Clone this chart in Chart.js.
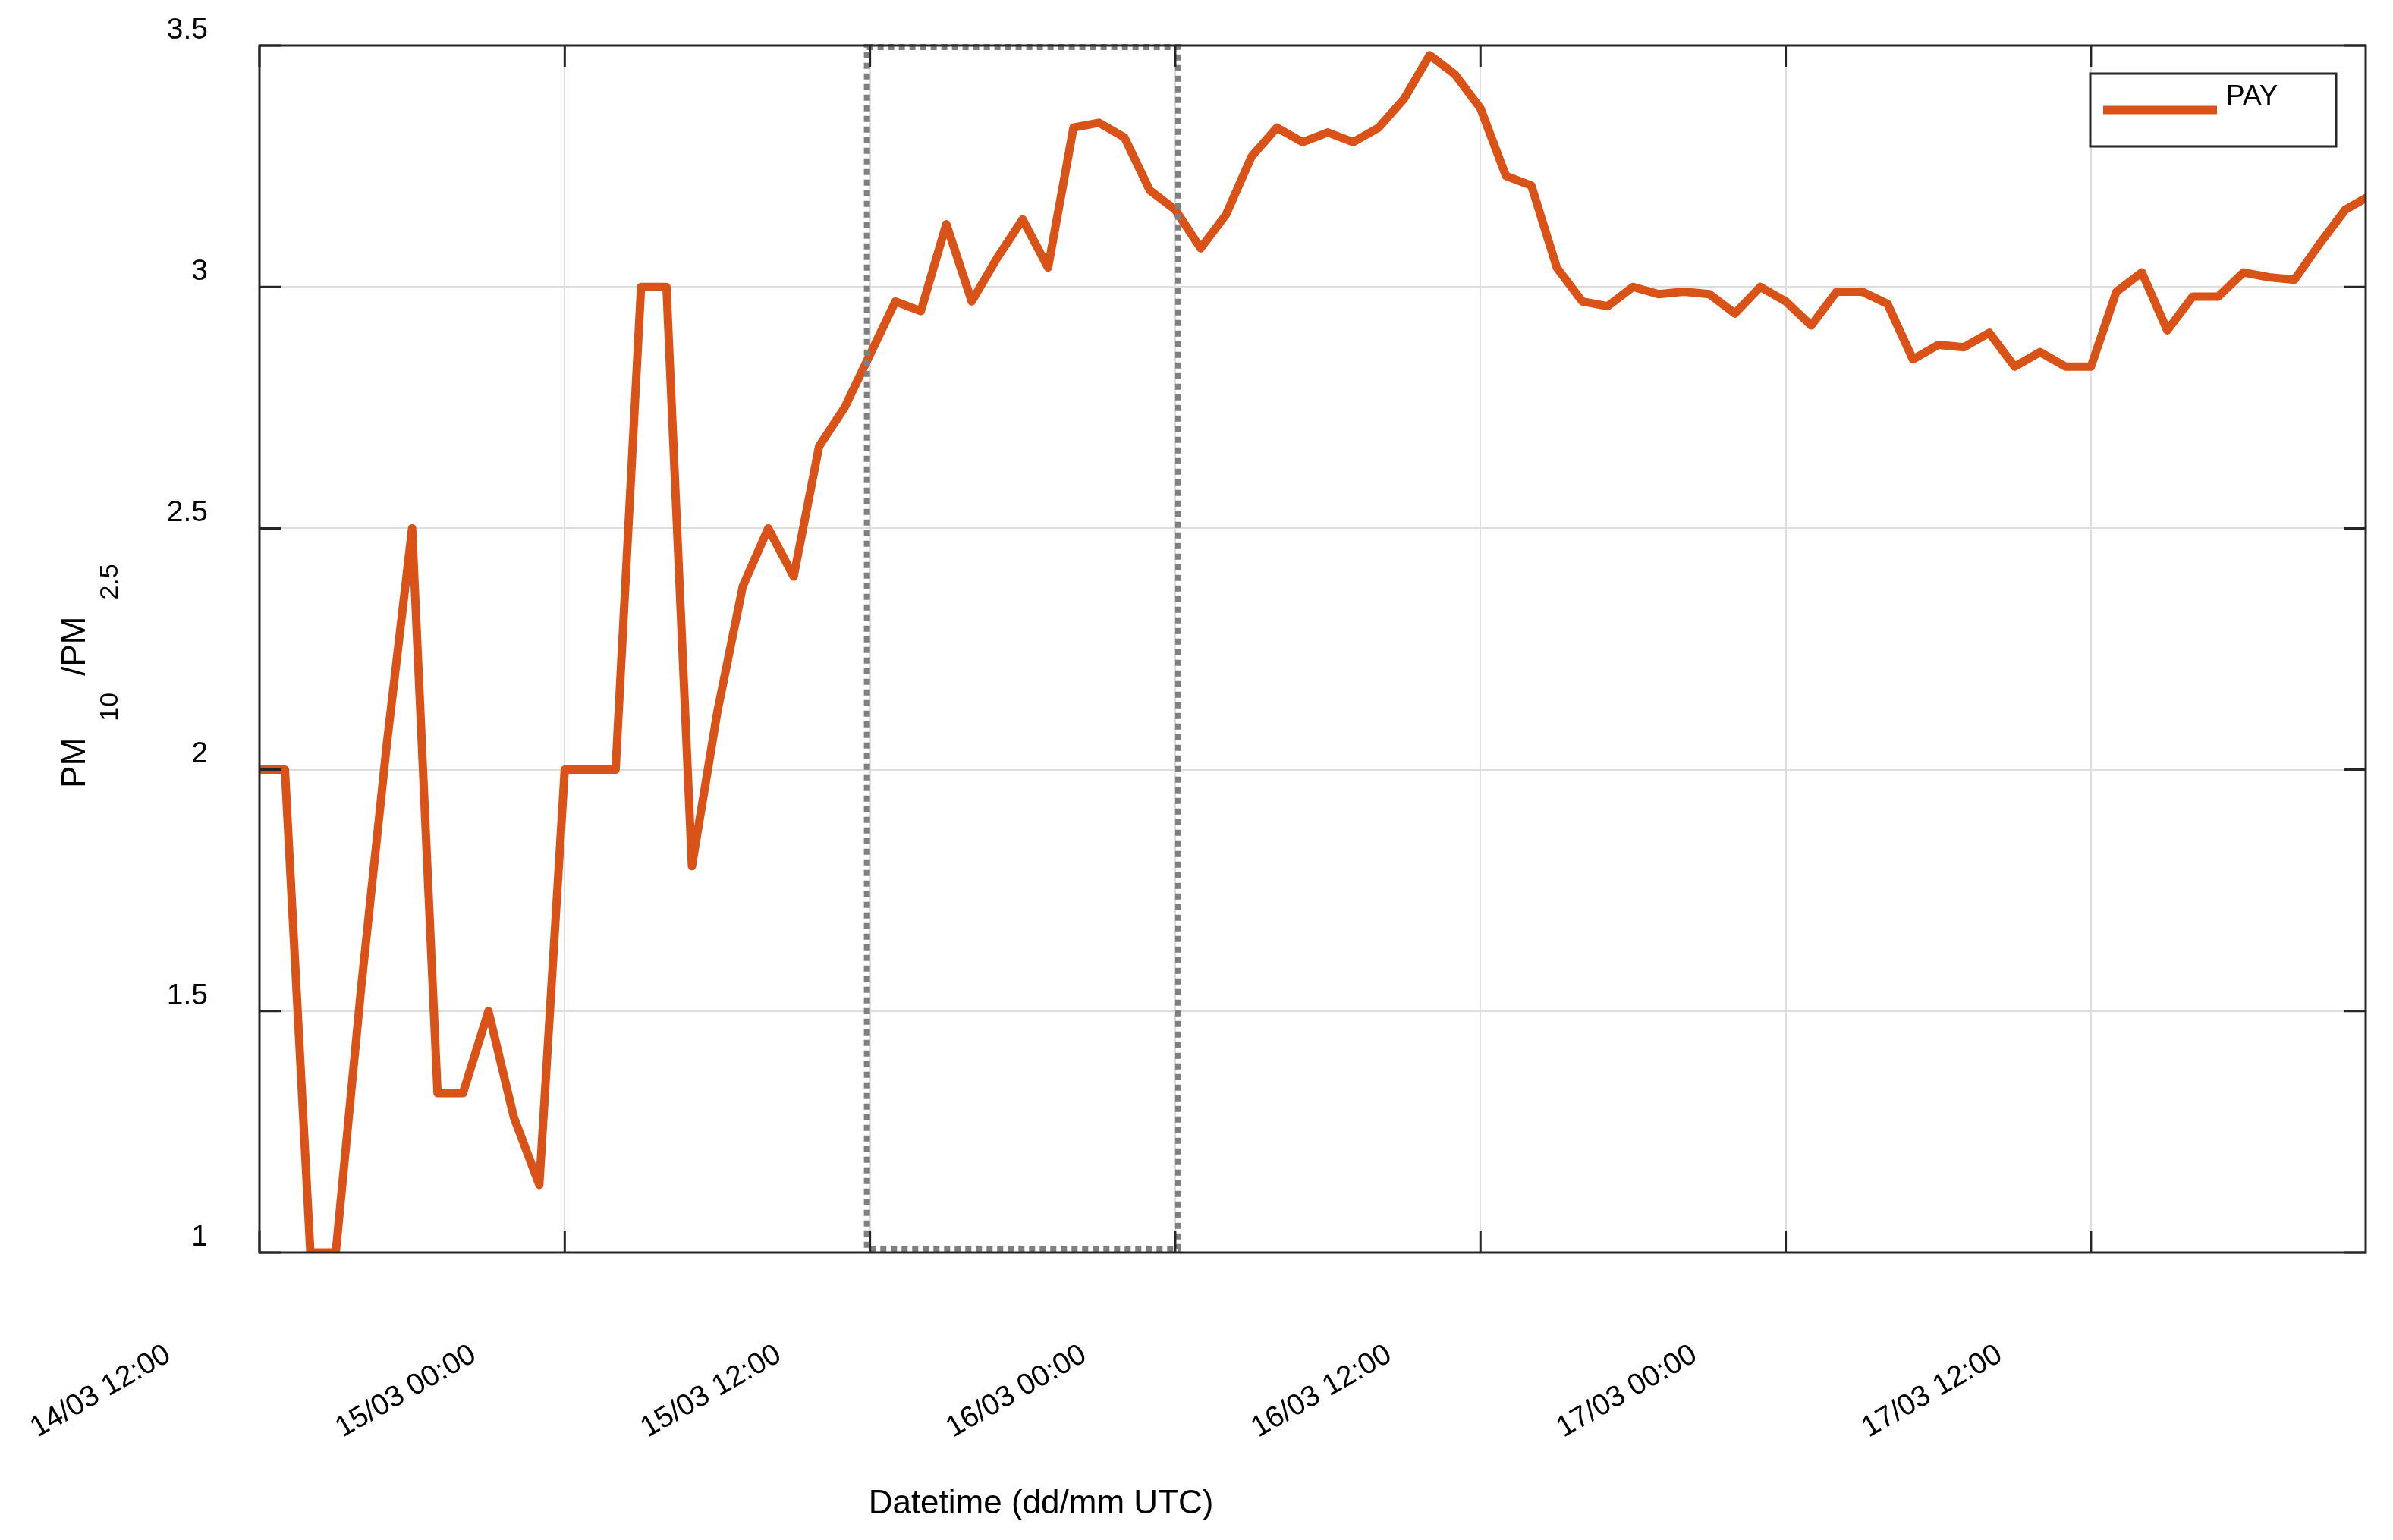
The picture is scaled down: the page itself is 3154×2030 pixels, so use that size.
<!DOCTYPE html>
<html><head><meta charset="utf-8">
<script src="https://cdn.jsdelivr.net/npm/chart.js@4"></script>
<style>html,body{margin:0;padding:0;background:#fff}#c{display:block}</style>
</head><body>
<canvas id="c" width="3154" height="2030"></canvas>
<script>
// Hours since 14/03 12:00 UTC
const hours = [];
for (let i = 0; i <= 83; i++) hours.push(i);
const payValues = [2.0,2.0,1.0,1.0,1.55,2.05,2.5,1.33,1.33,1.5,1.28,1.14,2.0,2.0,2.0,3.0,3.0,1.8,2.12,2.38,
2.5,2.4,2.67,2.75,2.86,2.97,2.95,3.13,2.97,3.06,3.14,3.04,3.33,3.34,3.31,3.2,3.16,3.08,3.15,3.27,
3.33,3.30,3.32,3.30,3.33,3.39,3.48,3.44,3.37,3.23,3.21,3.04,2.97,2.96,3.0,2.985,2.99,2.985,2.945,3.0,
2.97,2.92,2.99,2.99,2.965,2.85,2.88,2.875,2.905,2.835,2.865,2.835,2.835,2.99,3.03,2.91,2.98,2.98,3.03,3.02,
3.015,3.09,3.16,3.19];
const xTickValues = [0,12,24,36,48,60,72];
const xTickLabels = ['14/03 12:00','15/03 00:00','15/03 12:00','16/03 00:00','16/03 12:00','17/03 00:00','17/03 12:00'];
const yTickValues = [1,1.5,2,2.5,3,3.5];
const yTickLabels = ['1','1.5','2','2.5','3','3.5'];
const highlightStart = 24, highlightEnd = 36;
const seriesName = 'PAY';
const COLOR = '#D95319';
const FONT = '"Liberation Sans", Arial, sans-serif';

const deco = {
  id:'deco',
  afterDatasetsDraw(chart){
    const ctx = chart.ctx, x = chart.scales.x, y = chart.scales.y, a = chart.chartArea;
    ctx.save();
    ctx.strokeStyle = '#7f7f7f'; ctx.lineWidth = 8; ctx.setLineDash([8,6]);
    const bx0 = x.getPixelForValue(highlightStart), bx1 = x.getPixelForValue(highlightEnd);
    ctx.strokeRect(bx0-4, a.top+2, bx1-bx0+8, a.bottom-a.top-6);
    ctx.setLineDash([]);
    ctx.strokeStyle = '#262626'; ctx.lineWidth = 3;
    ctx.strokeRect(a.left, a.top, a.right-a.left, a.bottom-a.top);
    xTickValues.forEach(v=>{const px=x.getPixelForValue(v);
      ctx.beginPath();ctx.moveTo(px,a.bottom);ctx.lineTo(px,a.bottom-28);ctx.moveTo(px,a.top);ctx.lineTo(px,a.top+28);ctx.stroke();});
    yTickValues.forEach(v=>{const py=y.getPixelForValue(v);
      ctx.beginPath();ctx.moveTo(a.left,py);ctx.lineTo(a.left+28,py);ctx.moveTo(a.right,py);ctx.lineTo(a.right-28,py);ctx.stroke();});
    ctx.fillStyle = '#000'; ctx.font = '39px '+FONT; ctx.textAlign='right'; ctx.textBaseline='middle';
    yTickValues.forEach((v,i)=>ctx.fillText(yTickLabels[i], a.left-68, y.getPixelForValue(v)-20));
    ctx.textAlign='right'; ctx.textBaseline='middle';
    xTickValues.forEach((v,i)=>{const px=x.getPixelForValue(v);
      ctx.save();ctx.translate(px-120, a.bottom+132);ctx.rotate(-Math.PI/6);ctx.fillText(xTickLabels[i],0,0);ctx.restore();});
    ctx.font='44px '+FONT; ctx.textAlign='center'; ctx.textBaseline='middle';
    ctx.fillText('Datetime (dd/mm UTC)', 1372, 1983);
    ctx.save(); ctx.translate(100, 880); ctx.rotate(-Math.PI/2);
    ctx.textAlign='left'; ctx.textBaseline='middle';
    const parts=[['PM',0,44],['10',46,34],['/PM',0,44],['2.5',46,34]];
    let total=0; parts.forEach(p=>{ctx.font=p[2]+'px '+FONT; total+=ctx.measureText(p[0]).width+22;});
    let cx=-total/2;
    parts.forEach(p=>{ctx.font=p[2]+'px '+FONT; ctx.fillText(p[0],cx,p[1]); cx+=ctx.measureText(p[0]).width+22;});
    ctx.restore();
    ctx.fillStyle='#fff'; ctx.fillRect(2755,97,324,96);
    ctx.strokeStyle='#262626'; ctx.lineWidth=3; ctx.strokeRect(2755,97,324,96);
    ctx.strokeStyle=COLOR; ctx.lineWidth=11; ctx.beginPath(); ctx.moveTo(2772,145); ctx.lineTo(2922,145); ctx.stroke();
    ctx.fillStyle='#000'; ctx.font='37px '+FONT; ctx.textAlign='left'; ctx.textBaseline='middle';
    ctx.fillText(seriesName, 2934, 128);
    ctx.restore();
  }
};

new Chart(document.getElementById('c'), {
  type:'line',
  data:{ datasets:[{ label:seriesName, data: hours.map((h,i)=>({x:h,y:payValues[i]})),
    borderColor:COLOR, borderWidth:11, pointRadius:0, tension:0, fill:false, borderJoinStyle:'round', borderCapStyle:'round' }]},
  options:{
    responsive:false, animation:false, devicePixelRatio:1,
    layout:{padding:{left:342,right:36,top:60,bottom:379}},
    plugins:{legend:{display:false},tooltip:{enabled:false}},
    scales:{
      x:{type:'linear',min:0,max:82.8,
        afterBuildTicks:s=>{s.ticks=xTickValues.map(v=>({value:v}));},
        ticks:{display:false},grid:{color:'#dedede',lineWidth:2,drawTicks:false},border:{display:false}},
      y:{type:'linear',min:1,max:3.5,
        afterBuildTicks:s=>{s.ticks=yTickValues.map(v=>({value:v}));},
        ticks:{display:false},grid:{color:'#dedede',lineWidth:2,drawTicks:false},border:{display:false}}
    }
  },
  plugins:[deco]
});
</script>
</body></html>
